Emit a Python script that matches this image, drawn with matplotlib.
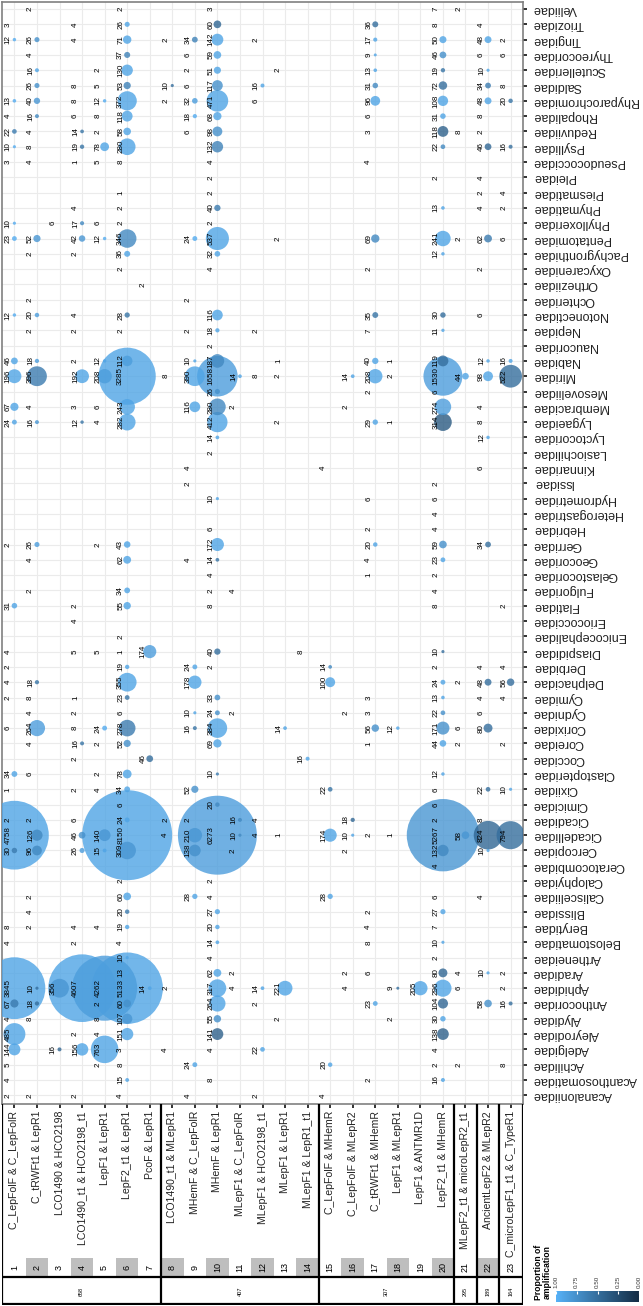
import numpy as np
import matplotlib
matplotlib.use("Agg")
import matplotlib.pyplot as plt
from matplotlib.colors import LinearSegmentedColormap, Normalize
from matplotlib.cm import ScalarMappable
from matplotlib.patches import Rectangle

plt.rcParams['font.family'] = ['Liberation Sans', 'DejaVu Sans']

families = [
    "Acanaloniidae", "Acanthosomatidae", "Achilidae", "Adelgidae", "Aleyrodidae",
    "Alydidae", "Anthocoridae", "Aphididae", "Aradidae", "Artheneidae",
    "Belostomatidae", "Berytidae", "Blissidae", "Calisceliidae", "Calophyidae",
    "Ceratocombidae", "Cercopidae", "Cicadellidae", "Cicadidae", "Cimicidae",
    "Cixiidae", "Clastopteridae", "Coccidae", "Coreidae", "Corixidae",
    "Cydnidae", "Cymidae", "Delphacidae", "Derbidae", "Diaspididae",
    "Enicocephalidae", "Eriococcidae", "Flatidae", "Fulgoridae", "Gelastocoridae",
    "Geocoridae", "Gerridae", "Hebridae", "Heterogastridae", "Hydrometridae",
    "Issidae", "Kinnaridae", "Lasiochilidae", "Lyctocoridae", "Lygaeidae",
    "Membracidae", "Mesoveliidae", "Miridae", "Nabidae", "Naucoridae",
    "Nepidae", "Notonectidae", "Ochteridae", "Ortheziidae", "Oxycarenidae",
    "Pachygronthidae", "Pentatomidae", "Phylloxeridae", "Phymatidae", "Piesmatidae",
    "Pleidae", "Pseudococcidae", "Psyllidae", "Reduviidae", "Rhopalidae",
    "Rhyparochromidae", "Saldidae", "Scutelleridae", "Thyreocoridae", "Tingidae",
    "Triozidae", "Veliidae",
]

primers = [
    "C_LepFolF & C_LepFolR", "C_tRWFt1 & LepR1", "LCO1490 & HCO2198",
    "LCO1490_t1 & HCO2198_t1", "LepF1 & LepR1", "LepF2_t1 & LepR1", "PcoF & LepR1",
    "LCO1490_t1 & MLepR1", "MHemF & C_LepFolR", "MHemF & LepR1", "MLepF1 & C_LepFolR",
    "MLepF1 & HCO2198_t1", "MLepF1 & LepR1", "MLepF1 & LepR1_t1",
    "C_LepFolF & MHemR", "C_LepFolF & MLepR2", "C_tRWFt1 & MHemR", "LepF1 & MLepR1",
    "LepF1 & ANTMR1D", "LepF2_t1 & MHemR", "MLepF2_t1 & microLepR2_t1",
    "AncientLepF2 & MLepR2", "C_microLepF1_t1 & C_TypeR1",
]

group_labels = ["658", "407", "307", "295", "189", "164"]
group_sizes = [7, 7, 6, 1, 1, 1]

# (family, number of sequences, proportion of amplification) per primer pair
p01 = [("Triozidae", 3, 1), ("Tingidae", 12, .95), ("Rhyparochromidae", 13, .95), ("Rhopalidae", 4, 1),
       ("Reduviidae", 22, .6), ("Psyllidae", 10, .95), ("Pseudococcidae", 3, 1), ("Phylloxeridae", 10, .95),
       ("Pentatomidae", 23, .95), ("Notonectidae", 12, .95), ("Nabidae", 46, .9), ("Miridae", 196, .9),
       ("Membracidae", 67, .9), ("Lygaeidae", 24, .9), ("Gerridae", 2, 1), ("Flatidae", 31, .9),
       ("Diaspididae", 4, 1), ("Derbidae", 2, 1), ("Delphacidae", 4, 1), ("Cymidae", 2, 1), ("Corixidae", 6, 1),
       ("Clastopteridae", 34, .9), ("Cixiidae", 1, 1), ("Cicadidae", 2, 1), ("Cicadellidae", 4758, .9),
       ("Cercopidae", 30, .6), ("Berytidae", 8, 1), ("Belostomatidae", 4, 1), ("Aphididae", 3845, .9),
       ("Anthocoridae", 67, .6), ("Alydidae", 4, 1), ("Aleyrodidae", 485, .9), ("Adelgidae", 144, .9),
       ("Achilidae", 5, 1), ("Acanthosomatidae", 4, 1), ("Acanaloniidae", 2, 1)]
p02 = [("Veliidae", 2, 1), ("Tingidae", 26, .75), ("Thyreocoridae", 4, 1), ("Scutelleridae", 16, .9),
       ("Saldidae", 26, .75), ("Rhyparochromidae", 40, .8), ("Rhopalidae", 16, .7), ("Reduviidae", 4, 1),
       ("Psyllidae", 8, 1), ("Pseudococcidae", 4, 1), ("Pentatomidae", 52, .8), ("Pachygronthidae", 2, 1),
       ("Ochteridae", 2, 1), ("Notonectidae", 20, .85), ("Nepidae", 2, 1), ("Nabidae", 18, .85),
       ("Miridae", 396, .6), ("Membracidae", 4, 1), ("Lygaeidae", 16, .8), ("Gerridae", 26, .85),
       ("Geocoridae", 4, 1), ("Fulgoridae", 2, 1), ("Delphacidae", 18, .55), ("Cymidae", 8, 1),
       ("Cydnidae", 4, 1), ("Corixidae", 264, .85), ("Coreidae", 4, 1), ("Clastopteridae", 6, 1),
       ("Cicadidae", 2, 1), ("Cicadellidae", 126, .7), ("Cercopidae", 96, .7), ("Calisceliidae", 2, 1),
       ("Blissidae", 4, 1), ("Berytidae", 2, 1), ("Aphididae", 10, .5), ("Anthocoridae", 18, .5),
       ("Alydidae", 8, 1), ("Acanaloniidae", 2, 1)]
p03 = [("Phylloxeridae", 6, 1), ("Aphididae", 356, .8), ("Adelgidae", 16, .45)]
p04 = [("Triozidae", 4, 1), ("Tingidae", 4, 1), ("Saldidae", 8, 1), ("Rhyparochromidae", 8, 1),
       ("Rhopalidae", 6, 1), ("Reduviidae", 14, .55), ("Psyllidae", 19, .55), ("Pseudococcidae", 1, 1),
       ("Phymatidae", 4, 1), ("Phylloxeridae", 17, .7), ("Pentatomidae", 42, .8), ("Pachygronthidae", 2, 1),
       ("Notonectidae", 4, 1), ("Nepidae", 2, 1), ("Nabidae", 2, 1), ("Miridae", 192, .9),
       ("Membracidae", 3, 1), ("Lygaeidae", 12, .55), ("Flatidae", 2, 1), ("Eriococcidae", 4, 1),
       ("Diaspididae", 5, 1), ("Cymidae", 1, 1), ("Cydnidae", 2, 1), ("Corixidae", 8, 1),
       ("Coreidae", 16, .55), ("Coccidae", 2, 1), ("Cixiidae", 2, 1), ("Cicadidae", 6, 1),
       ("Cicadellidae", 46, .75), ("Cercopidae", 26, .85), ("Berytidae", 4, 1), ("Belostomatidae", 2, 1),
       ("Aphididae", 4607, .9), ("Aleyrodidae", 2, 1), ("Adelgidae", 156, .9), ("Acanaloniidae", 2, 1)]
p05 = [("Scutelleridae", 2, 1), ("Saldidae", 5, 1), ("Rhyparochromidae", 12, .95), ("Rhopalidae", 8, 1),
       ("Reduviidae", 2, 1), ("Psyllidae", 78, .9), ("Pseudococcidae", 5, 1), ("Phylloxeridae", 6, 1),
       ("Pentatomidae", 12, .95), ("Nabidae", 12, .9), ("Miridae", 208, .85), ("Membracidae", 6, 1),
       ("Lygaeidae", 4, 1), ("Gerridae", 2, 1), ("Diaspididae", 5, 1), ("Corixidae", 24, .95),
       ("Coreidae", 2, 1), ("Clastopteridae", 2, 1), ("Cixiidae", 4, 1), ("Cicadellidae", 140, .8),
       ("Cercopidae", 15, .9), ("Berytidae", 4, 1), ("Aphididae", 4262, .85), ("Anthocoridae", 2, 1),
       ("Alydidae", 8, 1), ("Aleyrodidae", 4, 1), ("Adelgidae", 763, .9), ("Achilidae", 2, 1)]
p06 = [("Veliidae", 2, 1), ("Triozidae", 26, .9), ("Tingidae", 71, .9), ("Thyreocoridae", 37, .65),
       ("Scutelleridae", 130, .9), ("Saldidae", 53, .65), ("Rhyparochromidae", 372, .9), ("Rhopalidae", 118, .9),
       ("Reduviidae", 58, .9), ("Psyllidae", 280, .9), ("Pseudococcidae", 8, 1), ("Piesmatidae", 1, 1),
       ("Phymatidae", 2, 1), ("Phylloxeridae", 2, 1), ("Pentatomidae", 346, .7), ("Pachygronthidae", 36, .9),
       ("Oxycarenidae", 2, 1), ("Notonectidae", 28, .55), ("Nepidae", 2, 1), ("Nabidae", 112, .85),
       ("Miridae", 3285, .9), ("Membracidae", 243, .9), ("Lygaeidae", 282, .9), ("Gerridae", 43, .9),
       ("Geocoridae", 62, .9), ("Fulgoridae", 34, .9), ("Flatidae", 55, .9), ("Enicocephalidae", 2, 1),
       ("Diaspididae", 1, 1), ("Derbidae", 19, .9), ("Delphacidae", 355, .9), ("Cymidae", 23, .55),
       ("Cydnidae", 6, 1), ("Corixidae", 278, .6), ("Coreidae", 52, .75), ("Clastopteridae", 78, .9),
       ("Cixiidae", 34, .9), ("Cimicidae", 6, 1), ("Cicadidae", 24, .9), ("Cicadellidae", 8150, .9),
       ("Cercopidae", 309, .8), ("Calophyidae", 2, 1), ("Calisceliidae", 60, .9), ("Blissidae", 20, .6),
       ("Berytidae", 19, .9), ("Belostomatidae", 4, 1), ("Artheneidae", 10, .9), ("Aradidae", 13, .9),
       ("Aphididae", 5133, .9), ("Anthocoridae", 60, .75), ("Alydidae", 107, .8), ("Aleyrodidae", 151, .9),
       ("Adelgidae", 3, 1), ("Achilidae", 8, 1), ("Acanthosomatidae", 15, .9), ("Acanaloniidae", 4, 1)]
p07 = [("Ortheziidae", 2, 1), ("Diaspididae", 174, .85), ("Coccidae", 46, .5), ("Aphididae", 14, .9)]
p08 = [("Tingidae", 2, 1), ("Saldidae", 10, .5), ("Rhyparochromidae", 2, 1), ("Miridae", 8, 1),
       ("Cicadidae", 2, 1), ("Cicadellidae", 4, 1), ("Aphididae", 2, 1), ("Adelgidae", 4, 1)]
p09 = [("Tingidae", 34, .65), ("Thyreocoridae", 6, 1), ("Scutelleridae", 2, 1), ("Saldidae", 6, 1),
       ("Rhyparochromidae", 32, .85), ("Rhopalidae", 18, .95), ("Reduviidae", 6, 1), ("Pentatomidae", 24, .95),
       ("Ochteridae", 2, 1), ("Nepidae", 2, 1), ("Nabidae", 10, .9), ("Miridae", 390, .9),
       ("Membracidae", 116, .9), ("Kinnaridae", 4, 1), ("Issidae", 2, 1), ("Geocoridae", 4, 1),
       ("Derbidae", 24, .9), ("Delphacidae", 178, .9), ("Cydnidae", 10, .9), ("Corixidae", 16, .55),
       ("Cixiidae", 52, .75), ("Cicadidae", 2, 1), ("Cicadellidae", 210, .8), ("Cercopidae", 138, .75),
       ("Calisceliidae", 28, .9), ("Achilidae", 24, .9), ("Acanaloniidae", 4, 1)]
p10 = [("Veliidae", 3, 1), ("Triozidae", 60, .45), ("Tingidae", 142, .9), ("Thyreocoridae", 59, .9),
       ("Scutelleridae", 51, .9), ("Saldidae", 117, .75), ("Rhyparochromidae", 471, .9), ("Rhopalidae", 68, .9),
       ("Reduviidae", 98, .75), ("Psyllidae", 132, .65), ("Pseudococcidae", 4, 1), ("Pleidae", 2, 1),
       ("Piesmatidae", 2, 1), ("Phymatidae", 40, .6), ("Phylloxeridae", 2, 1), ("Pentatomidae", 537, .9),
       ("Pachygronthidae", 32, .9), ("Oxycarenidae", 4, 1), ("Notonectidae", 116, .9), ("Nepidae", 18, .9),
       ("Naucoridae", 2, 1), ("Nabidae", 187, .7), ("Miridae", 1658, .85), ("Mesoveliidae", 26, .75),
       ("Membracidae", 280, .7), ("Lygaeidae", 412, .9), ("Lyctocoridae", 14, .9), ("Lasiochilidae", 2, 1),
       ("Hydrometridae", 10, .9), ("Hebridae", 6, 1), ("Gerridae", 172, .9), ("Geocoridae", 14, .55),
       ("Gelastocoridae", 4, 1), ("Fulgoridae", 2, 1), ("Flatidae", 8, 1), ("Diaspididae", 40, .5),
       ("Derbidae", 2, 1), ("Cymidae", 33, .75), ("Cydnidae", 24, .75), ("Corixidae", 384, .9),
       ("Coreidae", 69, .9), ("Clastopteridae", 10, .6), ("Cimicidae", 20, .7), ("Cicadellidae", 6273, .85),
       ("Calophyidae", 2, 1), ("Calisceliidae", 4, 1), ("Blissidae", 27, .9), ("Berytidae", 20, .9),
       ("Belostomatidae", 14, .9), ("Artheneidae", 4, 1), ("Aradidae", 62, .9), ("Aphididae", 317, .9),
       ("Anthocoridae", 264, .9), ("Alydidae", 55, .75), ("Aleyrodidae", 141, .4), ("Adelgidae", 4, 1),
       ("Acanthosomatidae", 8, 1)]
p11 = [("Miridae", 14, .9), ("Membracidae", 2, 1), ("Fulgoridae", 4, 1), ("Cydnidae", 2, 1),
       ("Cicadidae", 16, .7), ("Cicadellidae", 10, .7), ("Cercopidae", 2, 1), ("Aradidae", 2, 1),
       ("Aphididae", 4, 1)]
p12 = [("Tingidae", 2, 1), ("Saldidae", 16, .9), ("Rhyparochromidae", 6, 1), ("Nepidae", 2, 1),
       ("Miridae", 8, 1), ("Cicadidae", 4, 1), ("Cicadellidae", 4, 1), ("Aphididae", 14, .9),
       ("Anthocoridae", 2, 1), ("Adelgidae", 22, .9), ("Acanaloniidae", 2, 1)]
p13 = [("Scutelleridae", 2, 1), ("Pentatomidae", 2, 1), ("Nabidae", 1, 1), ("Miridae", 2, 1),
       ("Lygaeidae", 2, 1), ("Corixidae", 14, .9), ("Cicadellidae", 1, 1), ("Aphididae", 221, .9),
       ("Alydidae", 2, 1)]
p14 = [("Diaspididae", 8, 1), ("Coccidae", 16, .9)]
p15 = [("Kinnaridae", 4, 1), ("Derbidae", 14, .7), ("Delphacidae", 100, .9), ("Cixiidae", 22, .55),
       ("Cicadellidae", 174, .9), ("Calisceliidae", 28, .9), ("Achilidae", 20, .9), ("Acanaloniidae", 4, 1)]
p16 = [("Miridae", 14, .9), ("Membracidae", 2, 1), ("Cydnidae", 2, 1), ("Cicadidae", 18, .45),
       ("Cicadellidae", 10, .9), ("Cercopidae", 2, 1), ("Aradidae", 2, 1), ("Aphididae", 4, 1)]
p17 = [("Triozidae", 36, .5), ("Tingidae", 17, .9), ("Thyreocoridae", 9, .9), ("Scutelleridae", 13, .9),
       ("Saldidae", 31, .7), ("Rhyparochromidae", 96, .9), ("Rhopalidae", 6, 1), ("Reduviidae", 3, 1),
       ("Pseudococcidae", 4, 1), ("Pentatomidae", 69, .7), ("Oxycarenidae", 2, 1), ("Notonectidae", 35, .55),
       ("Nepidae", 7, 1), ("Nabidae", 40, .9), ("Miridae", 208, .9), ("Mesoveliidae", 2, 1),
       ("Lygaeidae", 29, .9), ("Hydrometridae", 6, 1), ("Hebridae", 2, 1), ("Gerridae", 20, .9),
       ("Geocoridae", 4, 1), ("Gelastocoridae", 1, 1), ("Cymidae", 3, 1), ("Cydnidae", 3, 1),
       ("Corixidae", 56, .75), ("Coreidae", 1, 1), ("Cicadellidae", 2, 1), ("Blissidae", 2, 1),
       ("Berytidae", 4, 1), ("Belostomatidae", 8, 1), ("Aradidae", 6, 1), ("Anthocoridae", 23, .9),
       ("Acanthosomatidae", 2, 1)]
p18 = [("Nabidae", 1, 1), ("Miridae", 2, 1), ("Lygaeidae", 1, 1), ("Corixidae", 12, .9),
       ("Cicadellidae", 1, 1), ("Aphididae", 9, .5), ("Alydidae", 2, 1)]
p19 = [("Aphididae", 205, .9)]
p20 = [("Veliidae", 7, 1), ("Triozidae", 8, 1), ("Tingidae", 50, .9), ("Thyreocoridae", 46, .75),
       ("Scutelleridae", 19, .55), ("Saldidae", 72, .5), ("Rhyparochromidae", 108, .9), ("Rhopalidae", 31, .9),
       ("Reduviidae", 118, .4), ("Psyllidae", 22, .7), ("Pleidae", 2, 1), ("Phymatidae", 13, .9),
       ("Pentatomidae", 241, .9), ("Pachygronthidae", 12, .9), ("Notonectidae", 30, .5), ("Nepidae", 11, .9),
       ("Nabidae", 119, .5), ("Miridae", 1530, .85), ("Mesoveliidae", 6, 1), ("Membracidae", 274, .85),
       ("Lygaeidae", 314, .35), ("Issidae", 2, 1), ("Hydrometridae", 6, 1), ("Heterogastridae", 4, 1),
       ("Hebridae", 4, 1), ("Gerridae", 59, .75), ("Geocoridae", 23, .9), ("Gelastocoridae", 2, 1),
       ("Fulgoridae", 4, 1), ("Flatidae", 8, 1), ("Diaspididae", 10, .5), ("Derbidae", 2, 1),
       ("Delphacidae", 24, .9), ("Cymidae", 13, .9), ("Cydnidae", 22, .75), ("Corixidae", 171, .75),
       ("Coreidae", 44, .9), ("Clastopteridae", 12, .9), ("Cixiidae", 6, 1), ("Cimicidae", 6, 1),
       ("Cicadidae", 2, 1), ("Cicadellidae", 5267, .8), ("Cercopidae", 132, .7), ("Ceratocombidae", 4, 1),
       ("Calisceliidae", 6, 1), ("Blissidae", 27, .9), ("Berytidae", 7, 1), ("Belostomatidae", 10, .9),
       ("Artheneidae", 2, 1), ("Aradidae", 80, .45), ("Aphididae", 296, .9), ("Anthocoridae", 104, .45),
       ("Alydidae", 30, .9), ("Aleyrodidae", 138, .4), ("Adelgidae", 4, 1), ("Achilidae", 2, 1),
       ("Acanthosomatidae", 16, .9)]
p21 = [("Veliidae", 2, 1), ("Reduviidae", 8, 1), ("Pentatomidae", 2, 1), ("Miridae", 44, .9),
       ("Delphacidae", 2, 1), ("Corixidae", 6, 1), ("Coreidae", 2, 1), ("Cicadellidae", 58, .8),
       ("Aradidae", 4, 1), ("Aphididae", 6, 1), ("Achilidae", 2, 1)]
p22 = [("Triozidae", 4, 1), ("Tingidae", 48, .9), ("Thyreocoridae", 6, 1), ("Scutelleridae", 10, .9),
       ("Saldidae", 34, .6), ("Rhyparochromidae", 48, .9), ("Rhopalidae", 8, 1), ("Reduviidae", 2, 1),
       ("Psyllidae", 46, .45), ("Pleidae", 4, 1), ("Piesmatidae", 2, 1), ("Phymatidae", 4, 1),
       ("Pentatomidae", 62, .6), ("Oxycarenidae", 2, 1), ("Notonectidae", 6, 1), ("Nabidae", 12, .9),
       ("Miridae", 98, .9), ("Membracidae", 4, 1), ("Lygaeidae", 8, 1), ("Lyctocoridae", 12, .9),
       ("Kinnaridae", 6, 1), ("Gerridae", 34, .5), ("Derbidae", 4, 1), ("Delphacidae", 48, .5),
       ("Cymidae", 4, 1), ("Cydnidae", 6, 1), ("Corixidae", 80, .5), ("Cixiidae", 22, .5),
       ("Cicadidae", 8, 1), ("Cicadellidae", 824, .45), ("Cercopidae", 10, .9), ("Calisceliidae", 4, 1),
       ("Aradidae", 10, .9), ("Anthocoridae", 58, .75)]
p23 = [("Tingidae", 2, 1), ("Thyreocoridae", 6, 1), ("Saldidae", 8, 1), ("Rhyparochromidae", 20, .55),
       ("Psyllidae", 16, .5), ("Piesmatidae", 4, 1), ("Phymatidae", 2, 1), ("Pentatomidae", 6, 1),
       ("Nabidae", 16, .9), ("Miridae", 522, .5), ("Flatidae", 2, 1), ("Derbidae", 4, 1),
       ("Delphacidae", 56, .5), ("Cymidae", 4, 1), ("Coreidae", 2, 1), ("Cixiidae", 10, .9),
       ("Cicadellidae", 794, .5), ("Aradidae", 2, 1), ("Aphididae", 2, 1), ("Anthocoridae", 16, .5),
       ("Achilidae", 8, 1)]

by_primer = [p01, p02, p03, p04, p05, p06, p07, p08, p09, p10, p11, p12,
             p13, p14, p15, p16, p17, p18, p19, p20, p21, p22, p23]

W, H = 643, 1306
fig = plt.figure(figsize=(W / 100, H / 100), dpi=100)


def box(x0, y0, x1, y1):
    # pixel box (top-left origin) -> figure fraction
    return [x0 / W, 1 - y1 / H, (x1 - x0) / W, (y1 - y0) / H]


cmap = LinearSegmentedColormap.from_list("amp", ["#132B43", "#56B1F7"])
fam_pos = {f: i for i, f in enumerate(families)}

xs, ys, ns, ps = [], [], [], []
for j, cells in enumerate(by_primer):
    for fam, n, p in cells:
        xs.append(j)
        ys.append(fam_pos[fam])
        ns.append(n)
        ps.append(p)
xs, ys, ns, ps = map(np.array, (xs, ys, ns, ps))

ax = fig.add_axes(box(2, 2, 523, 1104))
order = np.argsort(-ns)
order = order[ns[order] >= 9]
ax.scatter(xs[order], ys[order], s=ns[order] * 0.515, c=ps[order], cmap=cmap,
           vmin=0, vmax=1, alpha=0.8, linewidths=0, zorder=3)
for x, y, n in zip(xs, ys, ns):
    ax.annotate(str(n), (x, y), xytext=(-4.7, 0), textcoords="offset points",
                rotation=90, ha="center", va="center", fontsize=5.8,
                color="black", zorder=4)

ax.set_xlim(-0.55, len(primers) - 0.45)
ax.set_ylim(-0.57, len(families) - 0.54)
ax.set_xticks(range(len(primers)))
ax.set_xticklabels(primers, rotation=90, va="top", ha="center")
ax.set_yticks(range(len(families)))
ax.yaxis.tick_right()
ax.set_yticklabels(families, rotation=180, ha="left", va="center")
ax.tick_params(axis="x", length=3, width=1.3, color="#222222", pad=2,
               labelsize=7.6, labelcolor="#222222")
ax.tick_params(axis="y", length=3, width=1.3, color="#222222", pad=4,
               labelsize=9, labelcolor="#222222")
ax.grid(True, color="#EBEBEB", linewidth=0.8)
ax.set_axisbelow(True)
for spine in ax.spines.values():
    spine.set_color("#808080")
    spine.set_linewidth(1.2)

# primer number / amplicon length table under the primer names
tab = fig.add_axes(box(2, 1104, 523, 1305))
tab.set_xlim(ax.get_xlim())
tab.set_ylim(1305, 1104)
tab.axis("off")
for j in range(len(primers)):
    if (j + 1) % 2 == 0:
        tab.add_patch(Rectangle((j - 0.5, 1258), 1, 18, color="#BEBEBE", lw=0))
    tab.text(j, 1267, str(j + 1), rotation=90, ha="center", va="center", fontsize=6.5)

edges = np.concatenate([[-0.55], np.cumsum(group_sizes) - 0.5])
edges[-1] = len(primers) - 0.45
for e in edges:
    tab.plot([e, e], [1104, 1304], color="black", lw=1.6, solid_capstyle="butt")
for yl in (1277, 1304):
    tab.plot([edges[0], edges[-1]], [yl, yl], color="black", lw=1.6, solid_capstyle="butt")
for a, b, lab in zip(edges[:-1], edges[1:], group_labels):
    tab.text((a + b) / 2, 1291, lab, rotation=90, ha="center", va="center", fontsize=4)

# colour legend
cax = fig.add_axes(box(556, 1291, 639, 1302))
sm = ScalarMappable(norm=Normalize(0, 1), cmap=cmap)
cb = fig.colorbar(sm, cax=cax, orientation="horizontal")
cb.outline.set_visible(False)
cb.set_ticks([0, 0.25, 0.5, 0.75, 1])
cax.invert_xaxis()
cax.xaxis.set_ticks_position("top")
cax.set_xticklabels(["0.00", "0.25", "0.50", "0.75", "1.00"], rotation=90)
cax.tick_params(axis="x", direction="in", color="white", length=2.5, width=0.8,
                labelsize=4.5, pad=2, labelcolor="#333333")
fig.text(543 / W, 1 - 1300 / H, "Proportion of\namplification", rotation=90,
         ha="center", va="bottom", fontsize=6.2, fontweight="bold", linespacing=1.05)

fig.savefig("out.png", dpi=100)
